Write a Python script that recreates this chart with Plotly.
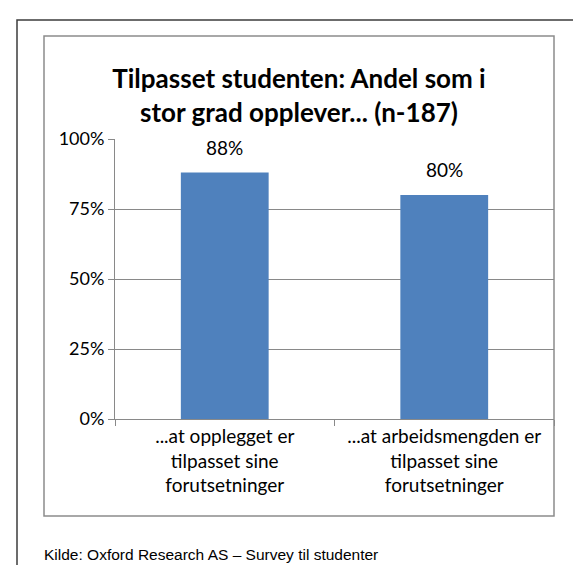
import plotly.graph_objects as go

categories = [
    '...at opplegget er<br>tilpasset sine<br>forutsetninger',
    '...at arbeidsmengden er<br>tilpasset sine<br>forutsetninger',
]
values = [0.88, 0.80]
value_labels = ['88%', '80%']

title_text = 'Tilpasset studenten: Andel som i<br>stor grad opplever... (n-187)'
source_text = 'Kilde: Oxford Research AS \u2013 Survey til studenter'

W, H = 581, 565
BAR_COLOR = '#4F81BD'
GRID = '#898989'
FONT = 'Lato, Noto Sans, sans-serif'

fig = go.Figure()

fig.add_trace(go.Bar(
    x=categories,
    y=values,
    marker=dict(color=BAR_COLOR, line=dict(width=0)),
    width=0.4,
    hoverinfo='skip',
))

# data labels above the bars
for cat, val, lab in zip(categories, values, value_labels):
    fig.add_annotation(
        x=cat, y=val, text=lab,
        showarrow=False, yanchor='bottom', yshift=12,
        font=dict(family=FONT, size=19, color='#000000'),
    )

fig.update_layout(
    width=W,
    height=H,
    margin=dict(l=107, r=35, t=131, b=154),
    paper_bgcolor='white',
    plot_bgcolor='white',
    showlegend=False,
    font=dict(family=FONT, size=18, color='#000000'),
    title=dict(
        text=title_text,
        x=291 / W, xref='container', xanchor='center',
        y=1 - 80 / H, yref='container', yanchor='middle',
        font=dict(family=FONT, size=26, color='#000000', weight='bold'),
    ),
)

fig.update_yaxes(
    range=[0, 1],
    dtick=0.25,
    tickformat='.0%',
    showgrid=True,
    gridcolor=GRID,
    gridwidth=1,
    zeroline=False,
    showline=True,
    linecolor=GRID,
    linewidth=1,
    ticks='outside',
    ticklen=6,
    tickcolor=GRID,
    tickfont=dict(family=FONT, size=18),
    fixedrange=True,
)

fig.update_xaxes(
    showline=True,
    linecolor=GRID,
    linewidth=1,
    ticks='outside',
    tickson='boundaries',
    ticklen=6,
    tickcolor=GRID,
    tickfont=dict(family=FONT, size=19),
    fixedrange=True,
)

# inner chart frame
fig.add_shape(
    type='rect', xref='paper', yref='paper',
    x0=(36 - 107) / (W - 142), x1=(546 - 107) / (W - 142),
    y0=(H - 154 - 508) / (H - 285), y1=(H - 154 - 28) / (H - 285),
    line=dict(color='#8C8C8C', width=1.5),
    fillcolor='rgba(0,0,0,0)', layer='below',
)

# outer frame (left and top edges)
fig.add_shape(
    type='path', xref='paper', yref='paper',
    path='M {x0},{y0} L {x0},{y1} L {x2},{y1}'.format(
        x0=(9 - 107) / (W - 142),
        y0=(H - 154 - H) / (H - 285),
        y1=(H - 154 - 12) / (H - 285),
        x2=(W - 107) / (W - 142),
    ),
    line=dict(color='#3C3C3C', width=1.5),
)

fig.add_annotation(
    text=source_text,
    xref='paper', yref='paper',
    x=(34 - 107) / (W - 142), xanchor='left',
    y=(H - 154 - 546) / (H - 285), yanchor='middle',
    showarrow=False,
    font=dict(family='Liberation Sans Narrow, Arial Narrow, Liberation Sans', size=15.5, color='#000000'),
)

fig.write_html('out.html')
